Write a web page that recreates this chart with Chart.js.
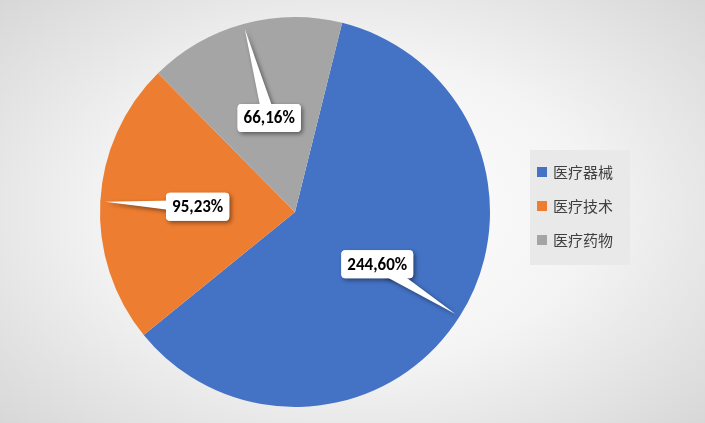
<!DOCTYPE html>
<html><head><meta charset="utf-8">
<script src="https://cdn.jsdelivr.net/npm/chart.js@4/dist/chart.umd.min.js"></script>
<style>
html,body{margin:0;padding:0;}
body{width:705px;height:423px;background:radial-gradient(ellipse 75% 80% at 50% 50%,#ffffff 0%,#f4f4f4 45%,#d2d2d2 100%);}
canvas{display:block}
</style></head><body>
<canvas id="c" width="705" height="423"></canvas>
<script>
const categories=["医疗器械","医疗技术","医疗药物"];
const values=[244,95,66];
const percents=["60%","23%","16%"];
const colors=["#4472C4","#ED7D31","#A5A5A5"];

const calloutPlugin={id:"callouts",afterDatasetsDraw(chart){
  const ctx=chart.ctx;const meta=chart.getDatasetMeta(0);
  meta.data.forEach((arc,i)=>{
    const mid=(arc.startAngle+arc.endAngle)/2;const r=arc.outerRadius;
    const lx=arc.x+Math.cos(mid)*r*0.5, ly=arc.y+Math.sin(mid)*r*0.5;
    const tx=arc.x+Math.cos(mid)*r*0.975, ty=arc.y+Math.sin(mid)*r*0.975;
    const txt=values[i]+","+percents[i];
    ctx.save();
    ctx.font="bold 17px Calibri, Carlito, 'Liberation Sans', sans-serif";
    const w=ctx.measureText(txt).width+12,h=28;
    const bx=lx-w/2,by=ly-h/2;
    ctx.shadowColor="rgba(0,0,0,0.45)";ctx.shadowBlur=4;ctx.shadowOffsetX=2;ctx.shadowOffsetY=2;
    ctx.fillStyle="#fff";
    ctx.beginPath();ctx.roundRect(bx,by,w,h,4);ctx.fill();
    // pointer
    const ang=Math.atan2(ty-ly,tx-lx);const px=-Math.sin(ang)*6,py=Math.cos(ang)*6;
    const bxp=lx+Math.cos(ang)*Math.min(w,h)*0.35, byp=ly+Math.sin(ang)*Math.min(w,h)*0.35;
    ctx.beginPath();ctx.moveTo(bxp+px,byp+py);ctx.lineTo(tx,ty);ctx.lineTo(bxp-px,byp-py);ctx.closePath();ctx.fill();
    ctx.shadowColor="transparent";
    ctx.beginPath();ctx.roundRect(bx,by,w,h,4);ctx.fill();
    ctx.fillStyle="#000";ctx.textAlign="center";ctx.textBaseline="middle";
    ctx.fillText(txt,lx,ly+1);
    ctx.restore();
  });
  // legend
  ctx.save();
  ctx.fillStyle="rgba(232,232,232,0.9)";ctx.fillRect(530,150,100,115);
  ctx.font="15px 'Noto Sans CJK SC', sans-serif";ctx.textBaseline="middle";
  categories.forEach((c,i)=>{const y=172+i*34;
    ctx.fillStyle=colors[i];ctx.fillRect(537,y-5,10,10);
    ctx.fillStyle="#404040";ctx.fillText(c,553,y);});
  ctx.restore();
}};

new Chart(document.getElementById("c"),{
  type:"pie",
  data:{labels:categories,datasets:[{data:values,backgroundColor:colors,borderWidth:0}]},
  options:{responsive:false,animation:false,rotation:14,
    layout:{padding:{left:100,right:215,top:17,bottom:16}},
    plugins:{legend:{display:false},tooltip:{enabled:false}}},
  plugins:[calloutPlugin]
});
</script></body></html>
